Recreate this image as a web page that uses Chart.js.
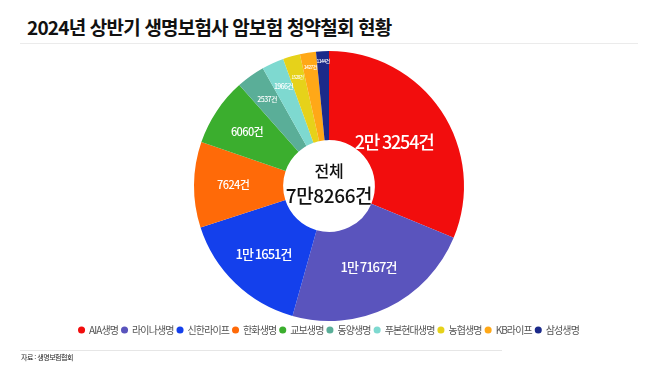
<!DOCTYPE html>
<html lang="ko">
<head>
<meta charset="utf-8">
<script src="https://cdn.jsdelivr.net/npm/chart.js@4/dist/chart.umd.min.js"></script>
<style>
  html, body { margin: 0; padding: 0; background: #fff; }
  #wrap { position: relative; width: 658px; height: 369px; overflow: hidden; font-family: "Noto Sans CJK KR", "Noto Sans", sans-serif; }
  #title { position: absolute; left: 27px; top: 13px; font-size: 19px; font-weight: 700; letter-spacing: -0.8px; color: #111; white-space: nowrap; line-height: 28px; }
  #topline { position: absolute; left: 20px; top: 43px; width: 618px; height: 1px; background: #ebebeb; }
  #botline { position: absolute; left: 20px; top: 350px; width: 482px; height: 1px; background: #e6e6e6; }
  #source { position: absolute; left: 21px; top: 352px; font-size: 7px; letter-spacing: -0.5px; color: #222; white-space: nowrap; line-height: 10px; }
  canvas { position: absolute; left: 0; top: 0; }
</style>
</head>
<body>
<div id="wrap">
  <div id="title">2024년 상반기 생명보험사 암보험 청약철회 현황</div>
  <div id="topline"></div>
  <canvas id="c" width="658" height="369"></canvas>
  <div id="botline"></div>
  <div id="source">자료 : 생명보험협회</div>
</div>
<script>
// ---- data ----
const companies = ["AIA생명", "라이나생명", "신한라이프", "한화생명", "교보생명", "동양생명", "푸본현대생명", "농협생명", "KB라이프", "삼성생명"];
const withdrawals = [23254, 17167, 11651, 7624, 6060, 2537, 1966, 1528, 1427, 1144];
const totalLabel = "전체";
const totalValue = 78266;

// ---- styles ----
const sliceColors = ["#f20d0d", "#5a54bd", "#1440ec", "#ff6a08", "#3bae2e", "#5aae98", "#7ed9d0", "#e6d21a", "#ffa817", "#1b2a8a"];
const labelRadiusFrac = [0.58, 0.67, 0.70, 0.71, 0.73, 0.79, 0.81, 0.84, 0.89, 0.93];
const labelFontSize = [18, 13, 13, 11, 11, 7, 7, 4.5, 5, 5];
const labelSpacing = [-1.2, -1, -1, -0.6, -0.6, -0.6, -0.7, -0.5, -0.6, -0.6];

function fmtCount(v) {
  if (v >= 10000) return Math.floor(v / 10000) + "만 " + (v % 10000) + "건";
  return v + "건";
}
function fmtTotal(v) {
  if (v >= 10000) return Math.floor(v / 10000) + "만" + (v % 10000) + "건";
  return v + "건";
}

const FONT = '"Noto Sans CJK KR", "Noto Sans", sans-serif';

const spacingPlugin = {
  id: 'spacing',
  beforeLayout(chart) { chart.ctx.letterSpacing = '-0.9px'; },
  beforeDraw(chart) { chart.ctx.letterSpacing = '-0.9px'; }
};

const labelPlugin = {
  id: 'sliceLabels',
  afterDatasetsDraw(chart) {
    const ctx = chart.ctx;
    const meta = chart.getDatasetMeta(0);
    ctx.save();
    ctx.textAlign = 'center';
    ctx.textBaseline = 'middle';
    ctx.fillStyle = '#ffffff';
    let cx = 0, cy = 0;
    meta.data.forEach((arc, i) => {
      const p = arc.getProps(['x', 'y', 'startAngle', 'endAngle', 'outerRadius'], true);
      cx = p.x; cy = p.y;
      const mid = (p.startAngle + p.endAngle) / 2;
      const r = p.outerRadius * labelRadiusFrac[i];
      ctx.font = '500 ' + labelFontSize[i] + 'px ' + FONT;
      ctx.letterSpacing = labelSpacing[i] + 'px';
      ctx.fillText(fmtCount(withdrawals[i]), p.x + Math.cos(mid) * r, p.y + Math.sin(mid) * r);
    });
    // center text
    ctx.fillStyle = '#111111';
    ctx.font = '500 16px ' + FONT;
    ctx.letterSpacing = '-0.3px';
    ctx.fillText(totalLabel, cx, cy - 15);
    ctx.font = '500 19px ' + FONT;
    ctx.letterSpacing = '-0.4px';
    ctx.fillText(fmtTotal(totalValue), cx, cy + 10);
    ctx.restore();
  }
};

new Chart(document.getElementById('c'), {
  type: 'doughnut',
  data: {
    labels: companies,
    datasets: [{
      data: withdrawals,
      backgroundColor: sliceColors,
      borderWidth: 0
    }]
  },
  options: {
    responsive: false,
    devicePixelRatio: 1,
    animation: false,
    cutout: '34%',
    layout: { padding: { top: 51, bottom: 24, left: 0, right: 0 } },
    plugins: {
      tooltip: { enabled: false },
      title: { display: false },
      legend: {
        display: true,
        position: 'bottom',
        labels: {
          usePointStyle: true,
          pointStyle: 'circle',
          boxWidth: 5,
          boxHeight: 5,
          padding: 4,
          color: '#555555',
          font: { family: FONT, size: 10 }
        }
      }
    }
  },
  plugins: [spacingPlugin, labelPlugin]
});
</script>
</body>
</html>
